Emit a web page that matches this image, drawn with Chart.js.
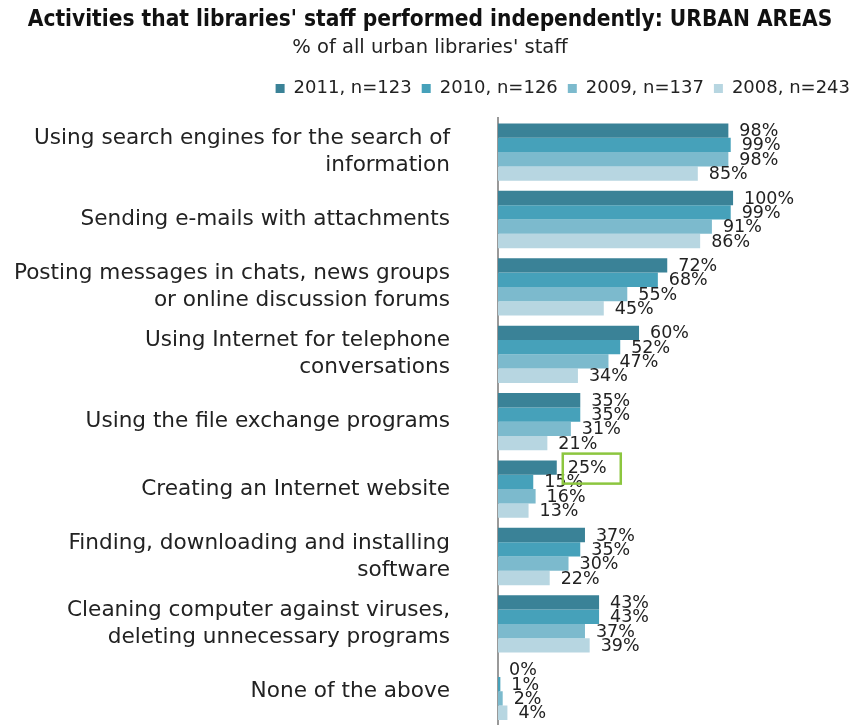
<!DOCTYPE html>
<html>
<head>
<meta charset="utf-8">
<script src="https://cdn.jsdelivr.net/npm/chart.js@4/dist/chart.umd.min.js"></script>
<style>
  html, body { margin: 0; padding: 0; background: #fff; }
  canvas { display: block; }
</style>
</head>
<body>
<canvas id="chart" width="864" height="725"></canvas>
<script>
const categories = [
  ['Using search engines for the search of', 'information'],
  'Sending e-mails with attachments',
  ['Posting messages in chats, news groups', 'or online discussion forums'],
  ['Using Internet for telephone', 'conversations'],
  'Using the file exchange programs',
  'Creating an Internet website',
  ['Finding, downloading and installing', 'software'],
  ['Cleaning computer against viruses,', 'deleting unnecessary programs'],
  'None of the above',
];
const seriesNames = ['2011, n=123', '2010, n=126', '2009, n=137', '2008, n=243'];
const v2011 = [98, 100, 72, 60, 35, 25, 37, 43, 0];
const v2010 = [99, 99, 68, 52, 35, 15, 35, 43, 1];
const v2009 = [98, 91, 55, 47, 31, 16, 30, 37, 2];
const v2008 = [85, 86, 45, 34, 21, 13, 22, 39, 4];
const colors = ['#3a8297', '#46a1ba', '#7cbacd', '#b7d6e1'];

const FONT = "'DejaVu Sans', Verdana, sans-serif";

// value labels right of each bar
const valueLabels = {
  id: 'valueLabels',
  afterInit(chart) {
    // a bit of extra room under the legend
    const lg = chart.legend;
    const fit = lg.fit;
    lg.fit = function () { fit.call(this); this.height += 11; };
  },
  afterDatasetsDraw(chart) {
    const ctx = chart.ctx;
    ctx.save();
    ctx.font = '17.5px ' + FONT;
    ctx.fillStyle = '#222';
    ctx.textBaseline = 'middle';
    chart.data.datasets.forEach((ds, di) => {
      chart.getDatasetMeta(di).data.forEach((bar, i) => {
        ctx.fillText(ds.data[i] + '%', bar.x + 11, bar.y + 1);
      });
    });
    // highlight box round 2011 "Creating an Internet website"
    const b = chart.getDatasetMeta(0).data[5];
    ctx.strokeStyle = '#8cc63f';
    ctx.lineWidth = 2.5;
    ctx.strokeRect(b.x + 6, b.y - 14, 58, 30);
    ctx.restore();
  }
};

new Chart(document.getElementById('chart'), {
  type: 'bar',
  data: {
    labels: categories,
    datasets: [v2011, v2010, v2009, v2008].map((d, i) => ({
      label: seriesNames[i],
      data: d,
      backgroundColor: colors[i],
      categoryPercentage: 0.85,
      barPercentage: 1,
    })),
  },
  options: {
    indexAxis: 'y',
    responsive: false,
    animation: false,
    layout: { padding: { left: 0, right: 4, top: 0, bottom: 0 } },
    scales: {
      x: { min: 0, max: 154, display: false },
      y: {
        // fixed axis width, no extra vertical padding from the tick padding
        afterFit: s => { s.width = 498; s.paddingTop = 0; s.paddingBottom = 0; },
        grid: { display: false, drawTicks: false },
        border: { display: true, color: '#999', width: 2 },
        ticks: { color: '#222', padding: 48, font: { family: FONT, size: 21.6, lineHeight: 1.25 } },
      },
    },
    plugins: {
      title: {
        display: true,
        text: "Activities that libraries' staff performed independently: URBAN AREAS",
        color: '#111',
        font: { family: "'DejaVu Sans Condensed', 'DejaVu Sans', sans-serif", size: 22.5, weight: 'bold', lineHeight: 1.2 },
        padding: { top: 7, bottom: 2 },
      },
      subtitle: {
        display: true,
        text: "% of all urban libraries' staff",
        color: '#222',
        font: { family: FONT, size: 19.5, lineHeight: 1.2 },
        padding: { top: 0, bottom: 10 },
      },
      legend: {
        align: 'end',
        labels: { boxWidth: 9, boxHeight: 9, padding: 10, color: '#222', font: { family: FONT, size: 18 } },
      },
      tooltip: { enabled: false },
    },
  },
  plugins: [valueLabels],
});
</script>
</body>
</html>
